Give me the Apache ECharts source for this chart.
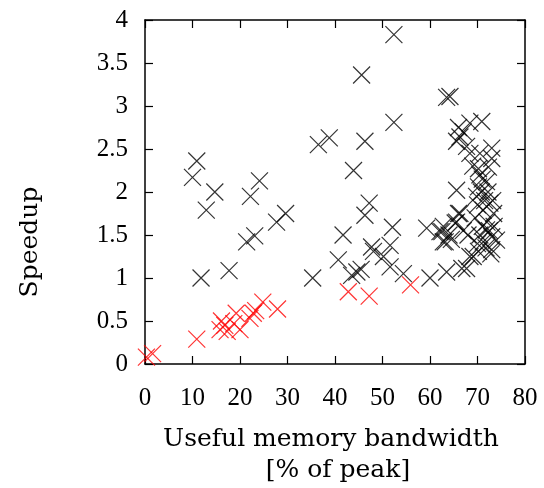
<!DOCTYPE html>
<html>
<head>
    <meta http-equiv="Content-Type" content="text/html; charset=UTF-8">
    <title>Speedup vs bandwidth</title>
    <script src="https://cdn.jsdelivr.net/npm/echarts@6/dist/echarts.min.js"></script>
    <style>
        html, body { margin: 0; padding: 0; background: #fff; }
    </style>
</head>
<body>
<div id="chart" style="width: 544px; height: 488px;"></div>

<script type="text/javascript">
    // useful memory bandwidth [% of peak] / speedup, black points
    var blackBw = [10.9, 10.0, 14.7, 12.9, 24.1, 22.2, 29.6, 27.7, 23.1, 21.4, 11.8, 17.7,
        35.3, 36.5, 38.8, 45.6, 52.4, 52.4, 46.3, 43.9, 47.2, 46.3, 41.7, 52.1, 51.6, 47.7,
        48.1, 50.2, 40.7, 44.6, 43.5, 45.5, 51.6, 54.4, 60.0, 63.5, 67.7, 59.3, 62.5, 62.8,
        65.6, 66.0, 65.6, 69.1,
        64.2, 68.4, 70.9, 67.0, 66.3, 65.6, 67.7, 73.0, 68.4, 73.0, 70.2, 72.3, 70.5, 70.2,
        71.9, 69.8, 72.6, 73.4, 71.2, 66.3, 65.3, 62.8, 62.1, 63.2, 71.9, 73.0, 71.2, 74.0,
        70.2, 73.0, 68.4, 66.7,
        70.8, 71.5, 70.0, 72.0, 71.0, 70.5, 72.5, 71.8, 72.8, 70.0, 69.5, 71.0, 69.0, 64.5,
        67.0, 64.0, 68.0, 63.5, 66.0, 70.5, 72.2, 73.2, 73.5];
    var blackSpeedup = [2.36, 2.17, 2.00, 1.79, 2.13, 1.95, 1.75, 1.65, 1.49, 1.42, 1.00, 1.085,
        1.00, 2.55, 2.63, 3.36, 3.83, 2.81, 2.59, 2.25, 1.87, 1.73, 1.50, 1.59, 1.38, 1.36,
        1.31, 1.25, 1.21, 1.07, 1.03, 1.10, 1.13, 1.05, 1.00, 1.07, 1.11, 1.58, 1.54, 1.42,
        1.65, 1.75, 2.02, 1.25,
        3.11, 2.80, 2.82, 2.70, 2.64, 2.59, 2.53, 2.51, 2.45, 2.39, 2.27, 2.29, 2.20, 2.06,
        2.12, 1.95, 1.87, 1.75, 1.79, 1.75, 1.64, 1.60, 1.54, 1.42, 1.56, 1.48, 1.42, 1.44,
        1.31, 1.33, 1.25, 1.11,
        2.00, 1.90, 1.85, 1.65, 1.60, 1.50, 1.55, 1.35, 1.28, 1.40, 1.70, 2.15, 2.30, 1.45,
        1.55, 1.50, 1.50, 3.10, 2.75, 2.45, 2.00, 1.90, 1.60];

    // red points
    var redBw = [0.3, 1.6, 10.9, 16.1, 15.8, 16.8, 19.2, 17.3, 20.0, 18.7, 22.8, 22.1, 24.8,
        27.9, 23.3, 42.8, 47.2, 55.9];
    var redSpeedup = [0.08, 0.12, 0.29, 0.50, 0.40, 0.45, 0.59, 0.38, 0.40, 0.47, 0.59, 0.53,
        0.72, 0.64, 0.62, 0.84, 0.79, 0.92];

    var xTicks = [0, 10, 20, 30, 40, 50, 60, 70, 80];
    var yTicks = [0, 0.5, 1, 1.5, 2, 2.5, 3, 3.5, 4];

    function pairs(xs, ys) {
        var res = [];
        for (var i = 0; i < xs.length; i++) {
            res.push([xs[i], ys[i]]);
        }
        return res;
    }

    var cross = 'path://M0,0L10,10M10,0L0,10';
    var font = 'Liberation Serif';
    var titleFont = '25px "DejaVu Serif"';

    var chart = echarts.init(document.getElementById('chart'));

    var axisLine = {show: true, onZero: false, lineStyle: {color: '#000', width: 1.5}};
    var tick = {show: true, inside: true, length: 8, lineStyle: {color: '#000', width: 1.2}};

    chart.setOption({
        animation: false,
        backgroundColor: '#fff',
        grid: {left: 145, right: 19, top: 20, bottom: 124},
        xAxis: [{
            type: 'value', min: 0, max: 80, interval: 10,
            axisLine: axisLine, axisTick: tick, splitLine: {show: false},
            axisLabel: {color: '#000', fontFamily: font, fontSize: 25, margin: 22,
                formatter: function (v) { return xTicks.indexOf(v) >= 0 ? String(v) : ''; }}
        }, {
            type: 'value', position: 'top', min: 0, max: 80, interval: 10,
            axisLine: axisLine, axisTick: tick, splitLine: {show: false},
            axisLabel: {show: false}
        }],
        yAxis: [{
            type: 'value', min: 0, max: 4, interval: 0.5,
            axisLine: axisLine, axisTick: tick, splitLine: {show: false},
            axisLabel: {color: '#000', fontFamily: font, fontSize: 25, margin: 17,
                formatter: function (v) { return yTicks.indexOf(v) >= 0 ? String(v) : ''; }}
        }, {
            type: 'value', position: 'right', min: 0, max: 4, interval: 0.5,
            axisLine: axisLine, axisTick: tick, splitLine: {show: false},
            axisLabel: {show: false}
        }],
        graphic: [{
            type: 'text', x: 331, y: 439,
            style: {text: 'Useful memory bandwidth', fill: '#000', font: titleFont,
                textAlign: 'center', textVerticalAlign: 'middle'}
        }, {
            type: 'text', x: 338, y: 470,
            style: {text: '[% of peak]', fill: '#000', font: titleFont,
                textAlign: 'center', textVerticalAlign: 'middle'}
        }, {
            type: 'text', x: 30, y: 242, rotation: Math.PI / 2,
            style: {text: 'Speedup', fill: '#000', font: titleFont,
                textAlign: 'center', textVerticalAlign: 'middle'}
        }],
        series: [{
            type: 'scatter',
            xAxisIndex: 0, yAxisIndex: 0,
            data: pairs(blackBw, blackSpeedup),
            symbol: cross,
            symbolSize: 17,
            itemStyle: {color: 'none', borderColor: '#000', borderWidth: 1.2}
        }, {
            type: 'scatter',
            xAxisIndex: 0, yAxisIndex: 0,
            data: pairs(redBw, redSpeedup),
            symbol: cross,
            symbolSize: 17,
            itemStyle: {color: 'none', borderColor: '#ff0000', borderWidth: 1.2}
        }]
    });
</script>

</body>
</html>
